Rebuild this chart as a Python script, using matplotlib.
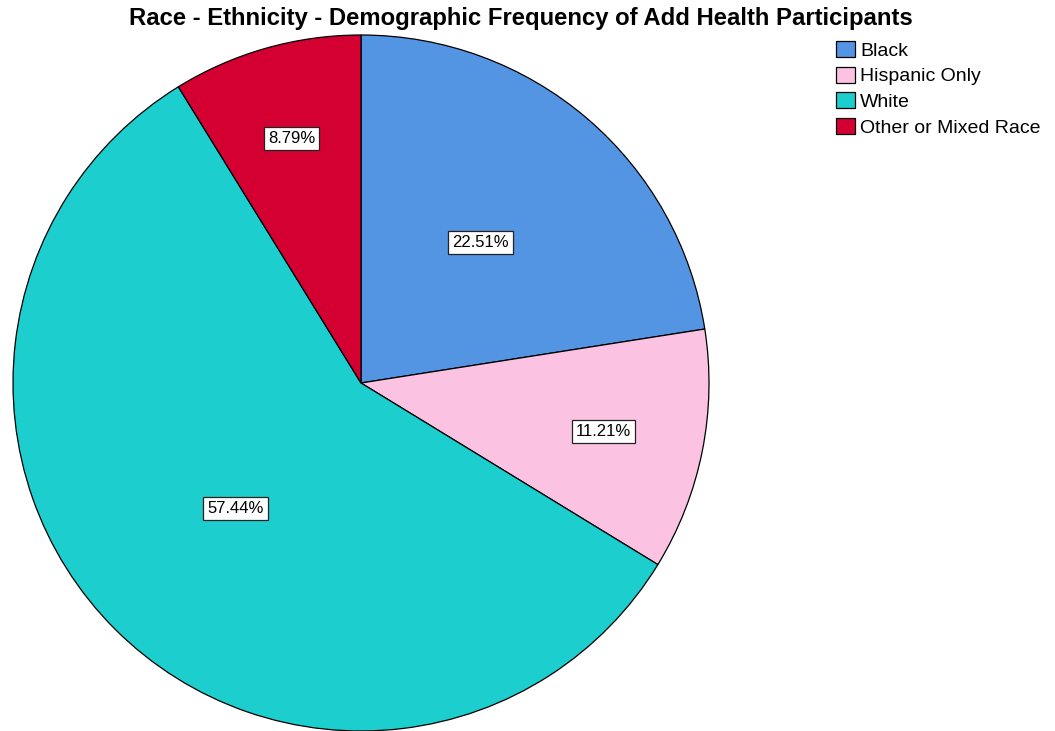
import matplotlib.pyplot as plt
import numpy as np

plt.rcParams['font.family'] = ['Liberation Sans', 'DejaVu Sans']

# race / ethnicity shares (percent)
groups = ['Black', 'Hispanic Only', 'White', 'Other or Mixed Race']
shares = [22.51, 11.21, 57.44, 8.79]
colors = ['#5394e3', '#fbc3e1', '#1ccecd', '#d50032']
# how far out each percentage box sits, as a fraction of the radius
label_r = [0.53, 0.71, 0.51, 0.73]

W, H = 1055, 731
fig = plt.figure(figsize=(W / 100, H / 100), dpi=100)
ax = fig.add_axes([0, 0, 1, 1])

cx, cy, R = 361, H - 383, 348
wedges, _ = ax.pie(shares, colors=colors, startangle=90, counterclock=False,
                   center=(cx, cy), radius=R,
                   wedgeprops=dict(edgecolor='black', linewidth=0.9))
ax.set_xlim(0, W)
ax.set_ylim(0, H)
ax.set_aspect('equal')
ax.axis('off')

for w, val, fr in zip(wedges, shares, label_r):
    mid = np.deg2rad((w.theta1 + w.theta2) / 2)
    ax.text(cx + fr * R * np.cos(mid), cy + fr * R * np.sin(mid), '%.2f%%' % val,
            ha='center', va='center', fontsize=12,
            bbox=dict(boxstyle='square,pad=0.25', facecolor='white',
                      edgecolor='#222222', linewidth=0.9))

fig.text(521 / W, 1 - 19 / H, 'Race - Ethnicity - Demographic Frequency of Add Health Participants',
         ha='center', va='center', fontsize=17.2, fontweight='bold')

fig.legend(wedges, groups, loc='upper left', bbox_to_anchor=(836 / W, 1 - 41 / H),
           frameon=False, fontsize=14, handlelength=1.0, handleheight=0.88,
           handletextpad=0.25, labelspacing=0.36, borderaxespad=0, borderpad=0)

fig.savefig('out.png', dpi=100)
